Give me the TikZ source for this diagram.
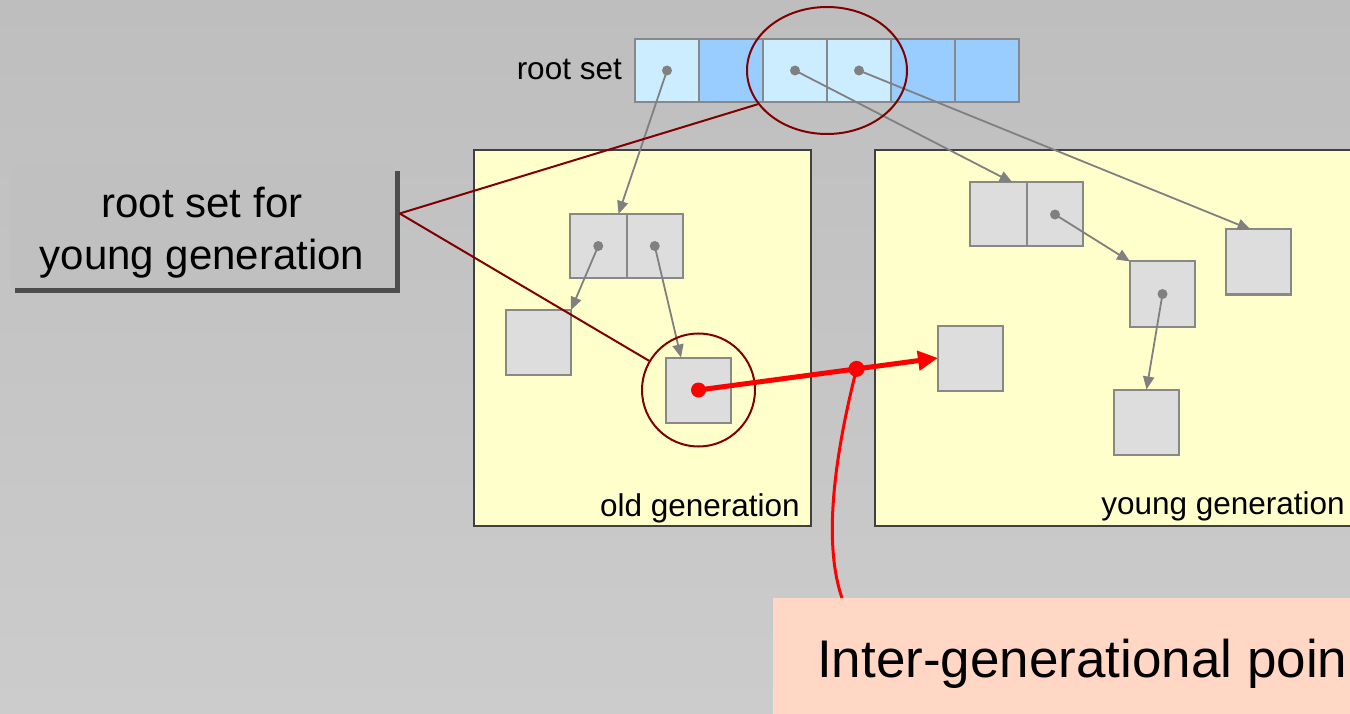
\documentclass[tikz,border=0pt]{standalone}
\usepackage{fontspec}
\setmainfont{Liberation Sans}
\usetikzlibrary{arrows.meta,calc,shapes.geometric,shadows}
\definecolor{bgtop}{RGB}{190,190,190}
\definecolor{bgbot}{RGB}{204,204,204}
\definecolor{lightblue}{RGB}{204,236,255}
\definecolor{darkblue}{RGB}{153,204,255}
\definecolor{objfill}{RGB}{221,221,221}
\definecolor{objline}{RGB}{136,136,136}
\definecolor{genfill}{RGB}{255,255,204}
\definecolor{genline}{RGB}{64,64,64}
\definecolor{labfill}{RGB}{192,192,192}
\definecolor{labshadow}{RGB}{77,77,77}
\definecolor{callfill}{RGB}{255,215,196}
\definecolor{dred}{RGB}{128,0,0}
\definecolor{bred}{RGB}{255,0,0}
\definecolor{ptr}{RGB}{128,128,128}
\begin{document}
\begin{tikzpicture}[x=1pt,y=-1pt,
  rootcell/.style={draw=objline, line width=2pt, minimum width=64pt, minimum height=63pt, inner sep=0pt, outer sep=0pt},
  halfcell/.style={draw=objline, fill=objfill, line width=2pt, minimum width=56.5pt, minimum height=64pt, inner sep=0pt, outer sep=0pt},
  obj/.style={draw=objline, fill=objfill, line width=2pt, minimum width=65pt, minimum height=65pt, inner sep=0pt, outer sep=0pt},
  gen/.style={draw=genline, fill=genfill, line width=2pt, inner sep=0pt, outer sep=0pt},
  ptrline/.style={draw=ptr, line width=1.8pt, -{Triangle[length=13pt,width=11pt]}},
  gdot/.style={circle, fill=ptr, minimum size=10pt, inner sep=0pt},
  rdot/.style={circle, fill=bred, inner sep=0pt},
  ring/.style={draw=dred, line width=2pt, inner sep=0pt},
  callline/.style={draw=dred, line width=2pt},
  smallfont/.style={font=\fontsize{31.5}{36}\selectfont},
]
\useasboundingbox (0,0) rectangle (1350,714);
\clip (0,0) rectangle (1350,714);
\shade[top color=bgtop, bottom color=bgbot] (0,0) rectangle (1350,714);

% root set
\node[rootcell, fill=lightblue] (r1) at (667,70.5) {};
\node[rootcell, fill=darkblue]  (r2) at (731,70.5) {};
\node[rootcell, fill=lightblue] (r3) at (795,70.5) {};
\node[rootcell, fill=lightblue] (r4) at (859,70.5) {};
\node[rootcell, fill=darkblue]  (r5) at (923,70.5) {};
\node[rootcell, fill=darkblue]  (r6) at (987,70.5) {};
\node[smallfont, anchor=base east, inner sep=0pt] (rslabel) at (622,80) {root set};

% generations
\node[gen, minimum width=337pt, minimum height=376pt] (old) at (642.5,338) {};
\node[gen, minimum width=485pt, minimum height=376pt] (young) at (1117.5,338) {};
\node[smallfont, anchor=base east, inner sep=0pt] (oldlab) at ($(old.south east)+(-11,-10)$) {old generation};
\node[smallfont, anchor=base east, inner sep=0pt] (younglab) at (1345,514) {young generation};

% old generation objects
\node[halfcell] (oa) at (598.25,246) {};
\node[halfcell] (ob) at (654.75,246) {};
\node[obj] (A) at (538.5,342.5) {};
\node[obj] (B) at (698.5,390) {};

% young generation objects
\node[halfcell] (ya) at (998.5,214.5) {};
\node[halfcell] (yb) at (1055,214.5) {};
\node[obj] (C) at (1258.5,262) {};
\node[obj] (D) at (1162.5,294) {};
\node[obj] (E) at (970.5,358) {};
\node[obj] (F) at (1146.5,422) {};

% dots
\node[gdot] (d1) at (r1.center) {};
\node[gdot] (d3) at (r3.center) {};
\node[gdot] (d4) at (r4.center) {};
\node[gdot] (doa) at (oa.center) {};
\node[gdot] (dob) at (ob.center) {};
\node[gdot] (dyb) at (yb.center) {};
\node[gdot] (dD) at (D.center) {};

% pointers
\draw[ptrline] (d1.center) -- ($(oa.north east)+(-8,0)$);
\draw[ptrline] (d3.center) -- ($(ya.north)+(14,0)$);
\draw[ptrline] (d4.center) -- ($(C.north)+(-8,0)$);
\draw[ptrline] (doa.center) -- (A.north east);
\draw[ptrline] (dob.center) -- ($(B.north west)+(15,0)$);
\draw[ptrline] (dyb.center) -- (D.north west);
\draw[ptrline] (dD.center) -- (F.north);

% label box
\node[draw=none, fill=labfill, minimum width=385pt, minimum height=122pt, inner sep=0pt,
      drop shadow={shadow xshift=5pt, shadow yshift=-5pt, fill=labshadow, opacity=1}]
      (label) at (202,227.5) {};
\node[inner sep=0pt, align=center, font=\fontsize{42}{52}\selectfont] (labeltext)
      at ($(label.center)+(0,5)$) {root set for\\young generation};
\coordinate (lp) at ($(label.east)+(5,-14)$);

% rings
\node[ring, ellipse, minimum width=160pt, minimum height=127pt] (rootring) at (827,70.5) {};
\node[ring, circle, minimum size=113pt] (bring) at (B.center) {};
\draw[callline] (lp) -- (rootring.206);
\draw[callline] (lp) -- (bring);

% callout box
\node[fill=callfill, anchor=north west, minimum width=590pt, minimum height=125pt, inner sep=0pt] (callout) at (773,598) {};
\node[anchor=base west, inner sep=0pt, font=\fontsize{53}{60}\selectfont] (ctext) at (817,677) {Inter-generational poin};

% inter-generational pointer
\draw[draw=bred, line width=5pt, -{Triangle[length=20pt,width=19pt]}] (B.center) -- (E.west);
\node[rdot, minimum size=15pt] (rb) at (B.center) {};
\node[rdot, minimum size=16pt] (rm) at ($(B.center)!0.66!(E.west)$) {};
\draw[draw=bred, line width=3pt] (rm.center) .. controls (836,450) and (822,540) .. ($(callout.north west)+(69,0)$);
\end{tikzpicture}
\end{document}
